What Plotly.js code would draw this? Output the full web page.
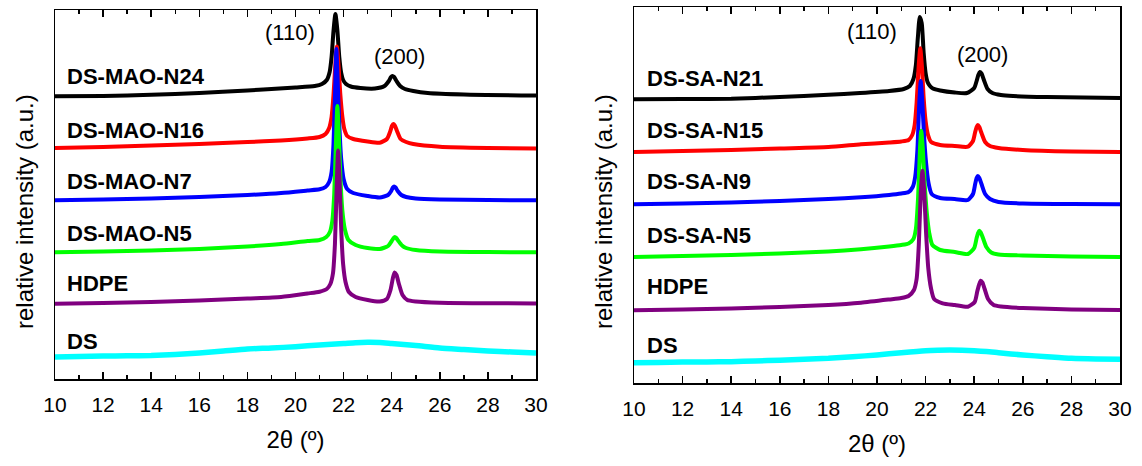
<!DOCTYPE html>
<html>
<head>
<meta charset="utf-8">
<script src="https://cdn.plot.ly/plotly-3.0.1.min.js"></script>
<style>html,body{margin:0;padding:0;background:#fff;}#chart{width:1142px;height:466px;}</style>
</head>
<body>
<div id="chart"></div>
<script>
// ---------- data (2θ in degrees, intensity in arbitrary stacked units) ----------
const seriesColors = ['#000000', '#ff0000', '#0000ff', '#00ff00', '#800080', '#00ffff'];

// Left panel: DS-MAO series
const leftNames = ['DS-MAO-N24', 'DS-MAO-N16', 'DS-MAO-N7', 'DS-MAO-N5', 'HDPE', 'DS'];
const leftLabelY = [302.7, 248.7, 197.7, 146, 96, 37.7];

const mao24X = [10,12,14,16,18,19,20,20.8,21.1,21.3,21.42,21.5,21.58,21.66,21.74,21.82,21.9,21.98,22.1,22.3,22.7,23.3,23.7,23.88,23.97,24.03,24.1,24.2,24.35,24.55,24.9,25.5,27,30];
const mao24Y = [282.7,283,284.3,286,288.5,290,291.5,293,295,299,307,322,348,365,349,322,306,299,295,292.5,291,290.5,293,298,302,303,302,298,293,290,288,286,284.5,283.5];

const mao16X = [10,12,14,16,18,19.4,20.5,21.0,21.25,21.4,21.5,21.58,21.65,21.72,21.79,21.86,21.95,22.03,22.15,22.4,23,23.5,23.8,23.93,24.01,24.07,24.13,24.22,24.37,24.6,24.9,26,28,30];
const mao16Y = [231,232,233.5,235,237,238.5,240.5,242,245,251,262,284,312,332.5,313,286,262,250,243,240,237.5,236.3,240,247,253,255,253.5,248,240,237,235,232.3,231,230.5];

const mao7X = [10,12,14,16,18,19.4,20.5,21.0,21.25,21.4,21.5,21.58,21.65,21.7,21.75,21.82,21.9,22.0,22.15,22.4,23,23.5,23.85,23.98,24.05,24.1,24.16,24.25,24.4,24.6,25,26,28,30];
const mao7Y = [178.7,179.5,180.5,182,184,186,188.5,189.7,192,197,207,235,290,330,300,255,220,200,190,186,183,181.5,184,188,191.5,192.5,191.5,188,184,182,180.5,179.5,179,178.7];

const mao5X = [10,12,14,16,18,19.4,20.5,21.0,21.28,21.43,21.53,21.61,21.68,21.74,21.8,21.87,21.95,22.05,22.2,22.5,23,23.5,23.85,24.0,24.08,24.13,24.19,24.28,24.43,24.6,25,26,28,30];
const mao5Y = [126.7,127.5,128.5,130,132.5,135,138,139,142,147,158,185,235,273,245,200,168,150,139,134,131,130,133,138,141,142,141,138,133.5,131,129,127.5,127,126.7];

const hdpeLX = [10,12,14,16,18,19.4,20.5,21.0,21.3,21.45,21.56,21.64,21.71,21.77,21.83,21.9,21.98,22.08,22.22,22.5,23,23.5,23.8,23.95,24.05,24.12,24.2,24.3,24.45,24.65,25,26,28,30];
const hdpeLY = [75.3,76,77,78.5,80.5,82,85.5,87.3,90,95,106,135,190,228.5,200,150,115,97,87,82,79,77.5,80,89,101,106.5,104,95,84,79,77.5,76.3,75.8,75.5];

const dsLX = [10,11,12,13,14,15,16,17,18,19,20,21,22,22.5,23,23.5,24,24.5,25,26,27,28,29,30];
const dsLY = [22,22.5,23,23.2,23.5,24.5,26,28,30,31,32.3,34,35.5,36.3,36.7,36.5,35.5,34.5,33.5,31,29.5,28,27,26];

// Right panel: DS-SA series
const rightNames = ['DS-SA-N21', 'DS-SA-N15', 'DS-SA-N9', 'DS-SA-N5', 'HDPE', 'DS'];
const rightLabelY = [304.3, 252.7, 201.3, 148, 97, 38];

const sa21X = [10,12,14,16,18,19.3,20.5,21.1,21.35,21.5,21.6,21.68,21.76,21.84,21.92,22.0,22.08,22.18,22.3,22.6,23.2,23.7,24.0,24.1,24.17,24.23,24.3,24.4,24.55,24.75,25.1,25.6,27,30];
const sa21Y = [283.7,284,284.3,286,288.3,290,292,294,297,304,318,345,366,360,330,310,301,297,294.5,292.5,290.5,290,295,302,308,311,309.5,303,294,290,288,287,286,285];

const sa15X = [10,12,14,16,18,19.34,20.5,21.0,21.3,21.45,21.55,21.63,21.71,21.78,21.85,21.92,22.0,22.1,22.23,22.6,23.2,23.74,23.95,24.04,24.1,24.15,24.21,24.3,24.45,24.65,25,26,28,30];
const sa15Y = [231,232,233,234.5,236,238.7,240.5,241.5,243,248,258,280,315,334.7,316,285,262,248,241,238,237,236.3,242,251,256,258,256,250,241,237,235,233,231.5,231];

const sa9X = [10,12,14,16,18,19.34,20.5,21.0,21.3,21.47,21.57,21.66,21.74,21.8,21.86,21.93,22.02,22.12,22.25,22.6,23.2,23.74,23.95,24.04,24.1,24.15,24.21,24.3,24.45,24.65,25,26,28,30];
const sa9Y = [178.7,179.5,180.5,182,184,185.7,188,189.5,191,196,206,232,280,302,283,250,220,200,189,185,184,183,189,199,205,207,205,199,189,184,181,179.5,179,178.7];

const sa5X = [10,12,14,16,18,19.34,20.5,21.0,21.3,21.5,21.6,21.69,21.77,21.82,21.88,21.96,22.05,22.15,22.28,22.6,23.2,23.74,24.0,24.1,24.16,24.21,24.27,24.36,24.5,24.7,25,26,28,30];
const sa5Y = [126,127,128,129.5,131.5,133.7,136.5,138,139.5,144,154,185,235,252.3,236,200,170,150,138,133,131,129,135,145,150,152.3,150.5,145,136,130.5,128.5,127.5,126.5,126];

const hdpeRX = [10,12,14,16,18,19.34,20.5,21.0,21.3,21.52,21.63,21.72,21.8,21.87,21.94,22.02,22.11,22.22,22.35,22.7,23.2,23.74,24.02,24.13,24.21,24.27,24.34,24.43,24.57,24.8,25.1,26,28,30];
const hdpeRY = [72.7,73.5,74.5,76,78,80.3,83.5,85,87,93,104,138,190,212.3,192,150,115,95,84,79.7,78,76.3,81,92,99,102.3,100.5,94,84,78,76.5,75,73.5,73];

const dsRX = [10,11,12,13,14,15,16,17,18,19,20,21,22,22.5,23,23.5,24,24.5,25,26,27,28,29,30];
const dsRY = [20.3,20.6,20.9,21.1,21.3,22,22.8,23.8,24.7,26.3,28,30.3,32.3,32.8,33,32.8,32.3,31.5,30.3,28,26.3,24.7,24,23.7];

// peak labels
const peakLabels = ['(110)', '(200)'];
const leftPeakX = [19.76, 24.33];
const leftPeakY = [346, 322];
const rightPeakX = [19.79, 24.36];
const rightPeakY = [351, 328];

// ---------- build ----------
const leftX = [mao24X, mao16X, mao7X, mao5X, hdpeLX, dsLX];
const leftY = [mao24Y, mao16Y, mao7Y, mao5Y, hdpeLY, dsLY];
const rightX = [sa21X, sa15X, sa9X, sa5X, hdpeRX, dsRX];
const rightY = [sa21Y, sa15Y, sa9Y, sa5Y, hdpeRY, dsRY];

const traces = [];
function addPanel(xs, ys, names, xa, ya) {
  for (let i = 0; i < xs.length; i++) {
    traces.push({
      type: 'scatter', mode: 'lines', x: xs[i], y: ys[i], name: names[i],
      xaxis: xa, yaxis: ya,
      line: {color: seriesColors[i], width: i === 5 ? 5.5 : 4, shape: 'spline', smoothing: 0.6},
      hoverinfo: 'skip'
    });
  }
}
addPanel(leftX, leftY, leftNames, 'x', 'y');
addPanel(rightX, rightY, rightNames, 'x2', 'y2');

const FONT = 'Arial, "Liberation Sans", sans-serif';
const annotations = [];
function addLabels(names, ys, xr, yr, lx) {
  names.forEach((n, i) => annotations.push({
    text: '<b>' + n + '</b>', x: lx, y: ys[i], xref: xr, yref: yr,
    xanchor: 'left', yanchor: 'middle', showarrow: false,
    font: {family: FONT, size: 22, color: '#000'}
  }));
}
addLabels(leftNames, leftLabelY, 'x', 'y', 10.41);
addLabels(rightNames, rightLabelY, 'x2', 'y2', 10.45);
function addPeaks(px, py, xr, yr) {
  peakLabels.forEach((t, i) => annotations.push({
    text: t, x: px[i], y: py[i], xref: xr, yref: yr,
    xanchor: 'center', yanchor: 'middle', showarrow: false,
    font: {family: FONT, size: 22, color: '#000'}
  }));
}
addPeaks(leftPeakX, leftPeakY, 'x', 'y');
addPeaks(rightPeakX, rightPeakY, 'x2', 'y2');

// y-axis titles (placed as rotated text beside each panel)
const yTitle = 'relative intensity (a.u.)';
[24, 603].forEach(px => annotations.push({
  text: yTitle, x: px / 1142, y: (466 - 212) / 466, xref: 'paper', yref: 'paper',
  xanchor: 'center', yanchor: 'middle', textangle: -90, showarrow: false,
  font: {family: FONT, size: 24, color: '#000'}
}));

function xAxis(domain, anchor) {
  return {
    domain: domain, anchor: anchor, range: [10, 30], tick0: 10, dtick: 2,
    ticks: 'inside', ticklen: 7, tickwidth: 1.5, tickcolor: '#000',
    minor: {dtick: 1, ticks: 'inside', ticklen: 4, tickwidth: 1.5, tickcolor: '#000', showgrid: false},
    showline: true, linecolor: '#000', linewidth: 1.5, mirror: 'ticks',
    showgrid: false, zeroline: false, ticklabelstandoff: 6,
    tickfont: {family: FONT, size: 21, color: '#000'},
    title: {text: '2θ (º)', font: {family: FONT, size: 24, color: '#000'}, standoff: 16}
  };
}
function yAxis(domain, anchor, top) {
  return {
    domain: domain, anchor: anchor, range: [0, top],
    showticklabels: false, ticks: '', showline: true, linecolor: '#000', linewidth: 1.5,
    mirror: true, showgrid: false, zeroline: false
  };
}

const layout = {
  width: 1142, height: 466,
  margin: {l: 0, r: 0, t: 0, b: 0},
  paper_bgcolor: '#fff', plot_bgcolor: '#fff',
  showlegend: false,
  xaxis: xAxis([55/1142, 536/1142], 'y'),
  yaxis: yAxis([87/466, 456/466], 'x', 369),
  xaxis2: xAxis([634/1142, 1120/1142], 'y2'),
  yaxis2: yAxis([83/466, 459/466], 'x2', 376),
  annotations: annotations
};

Plotly.newPlot('chart', traces, layout, {displayModeBar: false, staticPlot: true});
</script>
</body>
</html>
